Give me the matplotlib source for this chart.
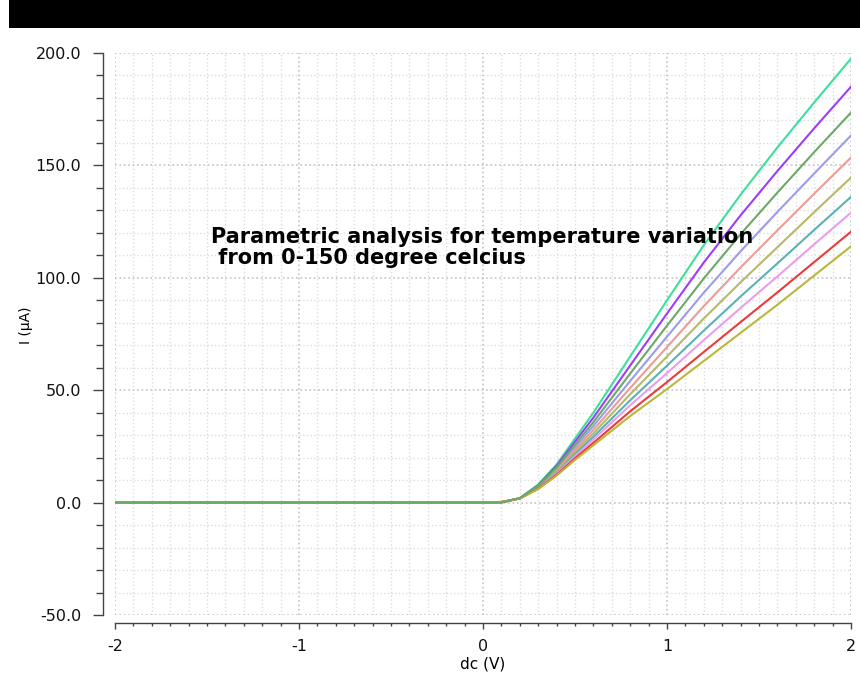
import matplotlib
matplotlib.use('Agg')
import matplotlib.pyplot as plt
from matplotlib.patches import Rectangle
from matplotlib.ticker import MultipleLocator, FormatStrFormatter

# sweep voltage (V)
v = [-2.0, 0.0, 0.1, 0.2, 0.3, 0.4, 0.5, 0.6, 0.8, 1.0, 1.2, 1.4, 1.6, 1.8, 2.0]

# current (uA) for each temperature step, coldest first
i_t0 = [0, 0, 0.00, 2.00, 8.0, 17.0, 28.5, 40.0, 65.0, 90.0, 114.5, 137.0, 158.0, 178.0, 197.5]
i_t1 = [0, 0, 0.05, 1.97, 7.7, 16.3, 27.1, 37.8, 61.0, 84.1, 106.8, 127.8, 147.5, 166.5, 185.0]
i_t2 = [0, 0, 0.09, 1.94, 7.4, 15.6, 25.8, 35.8, 57.4, 78.7, 99.7, 119.4, 137.9, 155.9, 173.5]
i_t3 = [0, 0, 0.12, 1.92, 7.2, 15.0, 24.6, 34.1, 54.1, 73.8, 93.4, 111.8, 129.3, 146.4, 163.3]
i_t4 = [0, 0, 0.16, 1.89, 7.0, 14.4, 23.5, 32.4, 51.0, 69.2, 87.4, 104.6, 121.1, 137.4, 153.5]
i_t5 = [0, 0, 0.19, 1.87, 6.7, 13.8, 22.5, 30.8, 48.2, 65.0, 81.9, 98.0, 113.6, 129.2, 144.6]
i_t6 = [0, 0, 0.22, 1.85, 6.5, 13.3, 21.5, 29.3, 45.5, 60.9, 76.5, 91.7, 106.4, 121.3, 136.0]
i_t7 = [0, 0, 0.25, 1.84, 6.4, 12.9, 20.7, 28.1, 43.3, 57.6, 72.3, 86.6, 100.6, 114.9, 129.0]
i_t8 = [0, 0, 0.28, 1.82, 6.2, 12.4, 19.7, 26.6, 40.6, 53.6, 67.0, 80.3, 93.5, 107.0, 120.5]
i_t9 = [0, 0, 0.30, 1.80, 6.0, 12.0, 19.0, 25.5, 38.5, 50.5, 63.0, 75.5, 88.0, 101.0, 114.0]

curves = [i_t0, i_t1, i_t2, i_t3, i_t4, i_t5, i_t6, i_t7, i_t8, i_t9]
colors = ['#3ddf9c', '#9b3dfb', '#6aaa66', '#9a9cec', '#ec9c96', '#b8b86a',
          '#5ab2b2', '#ec9cec', '#ec3a3a', '#b8b83a']

fig = plt.figure(figsize=(8.6, 6.74), dpi=100)
fig.patches.append(Rectangle((9/860, 1 - 28/674), 1, 28/674, transform=fig.transFigure,
                             facecolor='black', edgecolor='none'))

ax = fig.add_axes([115/860, 59/674, 736/860, 562/674])

# mid green curve drawn last so it sits on the flat part like the original
order = [0, 1, 3, 4, 5, 6, 7, 8, 9, 2]
for k in order:
    ax.plot(v, curves[k], color=colors[k], lw=1.5, zorder=3)

ax.set_xlim(-2, 2)
ax.set_ylim(-50, 200)

ax.xaxis.set_major_locator(MultipleLocator(1))
ax.xaxis.set_minor_locator(MultipleLocator(0.1))
ax.yaxis.set_major_locator(MultipleLocator(50))
ax.yaxis.set_minor_locator(MultipleLocator(10))
ax.yaxis.set_major_formatter(FormatStrFormatter('%.1f'))
ax.xaxis.set_major_formatter(FormatStrFormatter('%d'))

ax.grid(which='major', color='#c4c4c4', linestyle=':', linewidth=1.2)
ax.grid(which='minor', color='#dddddd', linestyle=':', linewidth=1.0)
ax.set_axisbelow(True)

for s in ['top', 'right']:
    ax.spines[s].set_visible(False)
ax.spines['left'].set_position(('outward', 8.6))
ax.spines['bottom'].set_position(('outward', 5.8))
for s in ['left', 'bottom']:
    ax.spines[s].set_color('#444444')
    ax.spines[s].set_linewidth(1.0)

ax.tick_params(which='both', width=1.0, color='#444444', labelsize=11.5, labelcolor='#111111')
ax.tick_params(axis='y', which='major', length=7.2, pad=8.6)
ax.tick_params(axis='y', which='minor', length=4.8)
ax.tick_params(axis='x', which='major', length=4.2, pad=7)
ax.tick_params(axis='x', which='minor', length=2.5)

ax.set_xlabel('dc (V)', fontsize=11)
ax.xaxis.set_label_coords(0.5, -0.074)
ax.set_ylabel('I (\u03bcA)', fontsize=10)
ax.yaxis.set_label_coords(-0.111, 0.515)

ax.text(-1.478, 122.8, 'Parametric analysis for temperature variation\n from 0-150 degree celcius',
        fontsize=15, family='DejaVu Sans', fontweight='bold', va='top', ha='left',
        color='black', linespacing=1.1, zorder=5)

fig.savefig('out.png', dpi=100)
